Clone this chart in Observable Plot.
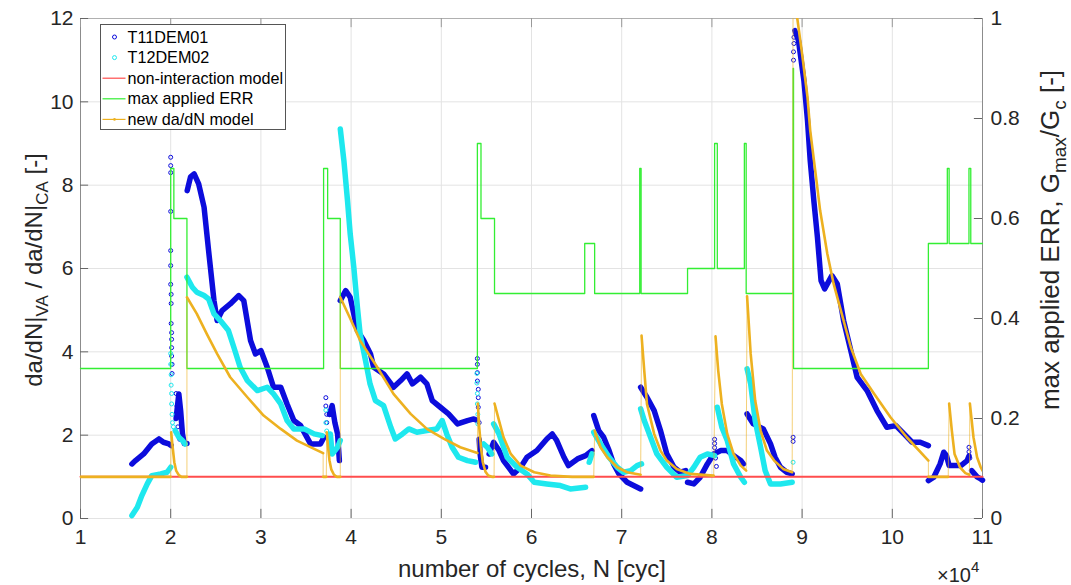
<!DOCTYPE html>
<html>
<head>
<meta charset="utf-8">
<script src="https://cdn.jsdelivr.net/npm/d3@7"></script>
<script src="https://cdn.jsdelivr.net/npm/@observablehq/plot@0.6"></script>
<style>
  html, body { margin: 0; padding: 0; background: #fff; }
  svg { display: block; }
</style>
</head>
<body>
<div id="chart"></div>
<script>
// ---------------- data (x in units of 10^4 cycles) ----------------
const xTicks = [1, 2, 3, 4, 5, 6, 7, 8, 9, 10, 11];
const yTicks = [0, 2, 4, 6, 8, 10, 12];
const rightTicks = [0, 0.2, 0.4, 0.6, 0.8, 1];
const rightTickLabels = ["0", "0.2", "0.4", "0.6", "0.8", "1"];
const rightMax = 1;   // right axis top
const leftMax = 12;   // left axis top

// T11DEM01 (blue) — continuous runs of measured points
const t11Segments = [
  [[1.57,1.31],[1.61,1.39],[1.70,1.55],[1.79,1.79],[1.87,1.91],[1.92,1.83],[1.98,1.79],[2.005,1.75]],
  [[2.06,2.4],[2.09,2.99],[2.11,2.59],[2.13,2.04],[2.15,1.8],[2.18,1.8]],
  [[2.183,7.87],[2.22,8.2],[2.26,8.27],[2.31,8.03],[2.37,7.47],[2.42,6.43],[2.48,5.23],[2.515,4.75],[2.57,4.99],[2.66,5.15],[2.755,5.35],[2.81,5.23],[2.885,4.27],[2.94,3.95],[3.0,4.03],[3.07,3.63],[3.14,3.15],[3.22,3.15],[3.29,2.75],[3.365,2.35],[3.44,2.23],[3.55,1.79],[3.66,1.79],[3.70,1.95]],
  [[3.76,2.5],[3.79,2.71],[3.82,2.3],[3.85,2.03],[3.87,1.39]],
  [[3.88,5.23],[3.94,5.47],[3.99,5.31],[4.07,4.51],[4.14,4.27],[4.215,3.95],[4.25,3.63],[4.36,3.47],[4.47,3.15],[4.55,3.31],[4.62,3.47],[4.68,3.23],[4.77,3.39],[4.84,3.23],[4.90,2.83],[4.99,2.67],[5.08,2.51],[5.18,2.27],[5.29,2.35],[5.36,2.39],[5.40,2.35]],
  [[5.42,1.9],[5.43,1.55],[5.45,1.23],[5.49,1.23]],
  [[5.53,1.55],[5.58,1.83],[5.64,1.63],[5.69,1.39],[5.80,1.07],[5.88,1.23],[5.95,1.47],[6.06,1.63],[6.17,1.91],[6.23,2.03],[6.28,1.87],[6.36,1.47],[6.41,1.27],[6.51,1.43],[6.60,1.51],[6.67,1.63]],
  [[6.69,2.47],[6.745,2.11],[6.80,1.95],[6.86,1.63],[6.91,1.31],[6.97,1.07],[7.06,0.87],[7.21,0.71]],
  [[7.21,3.15],[7.28,2.91],[7.36,2.59],[7.43,2.11],[7.50,1.55],[7.58,1.23],[7.65,1.11],[7.71,1.15]],
  [[7.73,0.87],[7.80,0.83],[7.87,0.99],[7.95,1.31],[8.02,1.55],[8.10,1.63],[8.17,1.63],[8.24,1.51],[8.32,1.39],[8.35,1.31]],
  [[8.39,2.51],[8.46,2.27],[8.57,2.15],[8.65,1.79],[8.70,1.47],[8.76,1.23],[8.83,1.11],[8.89,1.07]],
  [[8.92,11.71],[8.96,11.47],[9.02,10.51],[9.06,9.55],[9.09,8.59],[9.13,7.63],[9.17,6.75],[9.21,5.71],[9.25,5.51],[9.28,5.63],[9.33,5.83],[9.39,5.63],[9.46,4.75],[9.54,4.03],[9.61,3.39],[9.72,3.07],[9.83,2.59],[9.94,2.19],[10.04,2.23],[10.13,2.03],[10.22,1.83],[10.31,1.83],[10.40,1.75]],
  [[10.40,0.91],[10.46,0.99],[10.53,1.31],[10.57,1.59],[10.60,1.51],[10.63,1.27],[10.76,1.27],[10.83,1.39],[10.85,1.5]],
  [[10.88,1.15],[10.94,1.0],[10.98,0.95],[11.0,0.92]]
];
// T11DEM01 sparse points (fast transitions)
const t11Sparse = [
  [2.0,8.67],[2.0,8.47],[2.0,8.3],[2.0,7.37],[2.0,6.43],[2.0,6.07],[2.0,5.62],[2.005,5.38],[2.005,5.16],[2.005,4.68],[2.01,4.46],[2.01,4.3],[2.01,4.1],[2.01,3.9],[2.015,3.7],[2.015,3.48],
  [2.06,3.0],[2.07,2.7],[2.08,2.2],[2.1,1.9],
  [3.72,2.9],[3.72,2.7],[3.73,2.5],[3.73,2.3],
  [5.40,3.84],[5.40,3.7],[5.40,3.5],[5.40,3.3],[5.41,3.1],[5.41,2.9],[5.41,2.67],[5.42,2.3],
  [8.03,1.9],[8.03,1.8],[8.03,1.7],[8.04,1.45],[8.05,1.25],
  [8.90,1.95],[8.90,1.85],[8.905,11.0],[8.905,11.2],[8.91,11.4],[8.91,11.55],
  [10.85,1.71],[10.85,1.6],[10.86,1.45]
];

// T12DEM02 (cyan)
const t12Segments = [
  [[1.57,0.07],[1.63,0.27],[1.68,0.55],[1.74,0.83],[1.79,1.03],[1.89,1.07],[1.96,1.11],[2.0,1.23]],
  [[2.05,2.11],[2.09,1.95],[2.13,1.87],[2.16,1.79]],
  [[2.18,5.79],[2.24,5.55],[2.29,5.43],[2.37,5.35],[2.42,5.27],[2.48,4.91],[2.55,4.75],[2.64,4.51],[2.70,4.11],[2.77,3.63],[2.85,3.31],[2.96,3.07],[3.07,3.15],[3.14,2.99],[3.22,2.75],[3.29,2.35],[3.365,2.15],[3.48,2.15],[3.59,2.03],[3.68,1.99]],
  [[3.77,2.03],[3.79,1.55],[3.85,1.71],[3.88,1.87]],
  [[3.88,9.35],[3.92,8.59],[3.96,7.63],[3.99,6.83],[4.03,6.03],[4.07,5.07],[4.10,4.43],[4.16,3.79],[4.21,3.23],[4.27,2.83],[4.36,2.71],[4.44,2.19],[4.49,1.91],[4.57,2.03],[4.64,2.15],[4.73,2.07],[4.84,2.11],[4.95,2.15],[5.01,2.35],[5.06,2.03],[5.12,1.71],[5.19,1.47],[5.29,1.39],[5.38,1.35]],
  [[5.47,1.79],[5.51,1.71],[5.56,1.55]],
  [[5.58,2.27],[5.64,2.03],[5.73,1.47],[5.84,1.23],[5.95,1.07],[6.03,0.87],[6.17,0.83],[6.32,0.79],[6.43,0.71],[6.60,0.75]],
  [[6.64,1.35],[6.67,1.55]],
  [[6.69,2.07],[6.765,1.79],[6.86,1.47],[6.95,1.23],[7.02,1.11],[7.10,1.15],[7.17,1.27],[7.22,1.31]],
  [[7.21,2.63],[7.25,2.35],[7.32,1.95],[7.39,1.55],[7.50,1.23],[7.61,0.99],[7.73,1.03],[7.80,1.23],[7.87,1.47],[7.95,1.55],[8.03,1.51]],
  [[8.06,2.67],[8.11,2.19],[8.17,1.87],[8.24,1.31],[8.32,0.99],[8.36,0.87]],
  [[8.39,3.59],[8.43,3.23],[8.48,2.35],[8.54,1.71],[8.59,1.15],[8.65,0.83],[8.76,0.83],[8.89,0.87]]
];
const t12Sparse = [
  [2.0,3.96],[2.0,3.7],[2.005,3.45],[2.005,3.2],[2.01,3.0],[2.01,2.75],[2.015,2.5],[2.02,2.3],[2.03,2.2],
  [3.72,2.6],[3.72,2.3],[3.73,2.1],
  [5.395,3.48],[5.395,3.25],[5.40,3.0],[5.40,2.75],[5.405,2.5],[5.405,2.27],
  [8.90,1.35]
];

// non-interaction model
const nonInteraction = [[1, 1], [11, 1]];

// max applied ERR (right axis, G_max/G_c), step changes
const errX = [1.0, 2.0, 2.035, 2.18, 3.695, 3.74, 3.88, 5.40, 5.44, 5.59, 6.59, 6.70, 7.20, 7.215, 7.73, 8.03, 8.06, 8.36, 8.38, 8.90, 8.905, 10.40, 10.61, 10.63, 10.85, 10.87, 11.0];
const errY = [0.3, 0.7, 0.6, 0.3, 0.7, 0.6, 0.3, 0.75, 0.6, 0.45, 0.55, 0.45, 0.7, 0.45, 0.5, 0.75, 0.5, 0.75, 0.45, 0.9, 0.3, 0.55, 0.7, 0.55, 0.7, 0.55, 0.55];

// new da/dN model — decay runs
const modelSegments = [
  [[1.0,1.0],[2.0,1.0]],
  [[2.005,2.07],[2.02,1.75],[2.04,1.35],[2.06,1.15],[2.09,1.04],[2.12,1.0],[2.18,1.0]],
  [[2.18,5.31],[2.29,4.91],[2.40,4.43],[2.515,3.95],[2.66,3.39],[2.85,2.91],[3.03,2.47],[3.22,2.15],[3.40,1.87],[3.59,1.67],[3.69,1.57]],
  [[3.69,1.0],[3.725,1.0]],
  [[3.73,2.07],[3.745,1.7],[3.76,1.4],[3.78,1.18],[3.81,1.05],[3.84,1.0],[3.88,1.0]],
  [[3.88,5.31],[3.99,4.8],[4.10,4.27],[4.29,3.63],[4.47,2.99],[4.66,2.51],[4.84,2.15],[5.03,1.91],[5.21,1.71],[5.40,1.57]],
  [[5.405,2.76],[5.42,2.2],[5.44,1.7],[5.46,1.35],[5.49,1.12],[5.52,1.03],[5.56,1.0],[5.585,1.0]],
  [[5.59,2.76],[5.64,2.35],[5.69,1.95],[5.77,1.55],[5.88,1.27],[6.03,1.11],[6.21,1.03],[6.45,1.0],[6.69,1.0]],
  [[6.70,2.11],[6.765,1.71],[6.84,1.47],[6.95,1.23],[7.06,1.11],[7.21,1.05]],
  [[7.22,4.39],[7.25,3.55],[7.28,2.75],[7.36,2.03],[7.43,1.63],[7.50,1.39],[7.61,1.19],[7.76,1.07],[8.02,1.03]],
  [[8.04,4.37],[8.07,3.55],[8.11,2.75],[8.17,2.03],[8.24,1.55],[8.32,1.27],[8.38,1.15]],
  [[8.39,5.33],[8.43,3.95],[8.48,2.83],[8.54,2.11],[8.61,1.63],[8.69,1.39],[8.79,1.19],[8.89,1.11]],
  [[8.90,12.6],[8.95,11.95],[9.0,11.15],[9.06,10.11],[9.09,9.31],[9.15,8.27],[9.20,7.39],[9.28,6.35],[9.35,5.63],[9.43,4.99],[9.54,4.11],[9.65,3.47],[9.80,2.99],[9.98,2.43],[10.16,1.95],[10.40,1.39]],
  [[10.40,1.0],[10.62,1.0]],
  [[10.63,2.76],[10.66,2.11],[10.69,1.55],[10.75,1.23],[10.81,1.09],[10.855,1.05]],
  [[10.86,2.76],[10.90,1.95],[10.94,1.47],[10.98,1.23],[11.0,1.15]]
];

// ---------------- colours ----------------
const C_T11 = "#0c0cdc";
const C_T12 = "#1ee8ee";
const C_RED = "#ff4d4d";
const C_GREEN = "#33ee33";
const C_ORANGE = "#edb120";
const C_AXIS = "#8c8c8c";
const C_TEXT = "#262626";

// ---------------- tables for the library ----------------
const flat = (segs) => segs.flatMap((s, i) => s.map(([x, y]) => ({x, y, seg: i})));
const t11 = flat(t11Segments);
const t12 = flat(t12Segments);
const model = flat(modelSegments);
const t11Pts = t11Sparse.map(([x, y]) => ({x, y}));
const t12Pts = t12Sparse.map(([x, y]) => ({x, y}));
const red = nonInteraction.map(([x, y]) => ({x, y}));
const err = errX.map((x, i) => ({x, y: errY[i] * leftMax / rightMax}));

const chart = Plot.plot({
  width: 1071,
  height: 585,
  marginLeft: 80,
  marginRight: 89,
  marginTop: 18,
  marginBottom: 67,
  style: {fontFamily: "'Liberation Sans', Arial, Helvetica, sans-serif", fontSize: "21px", color: C_TEXT, background: "#fff"},
  x: {domain: [1, 11], label: null},
  y: {domain: [0, 12], label: null},
  marks: [
    Plot.gridX(xTicks, {stroke: "#e3e3e3", strokeOpacity: 1}),
    Plot.gridY(yTicks, {stroke: "#e3e3e3", strokeOpacity: 1}),
    // axis box lines
    Plot.ruleX([1, 11], {stroke: C_AXIS, strokeWidth: 1}),
    Plot.ruleY([12], {stroke: "#b0b0b0", strokeWidth: 1}),
    // inward ticks
    Plot.ruleX(xTicks, {x: d => d, y1: 0, y2: 0.22, stroke: "#666"}),
    Plot.ruleX(xTicks, {x: d => d, y1: 11.78, y2: 12, stroke: "#999"}),
    Plot.ruleY(yTicks, {y: d => d, x1: 1, x2: 1.09, stroke: "#666"}),
    Plot.ruleY(rightTicks, {y: d => d * leftMax / rightMax, x1: 10.91, x2: 11, stroke: "#666"}),
    // axes labels
    Plot.axisX({ticks: xTicks, tickSize: 0, tickPadding: 11, tickFormat: d => String(d), label: null}),
    Plot.axisY({anchor: "left", ticks: yTicks, tickSize: 0, tickPadding: 7, tickFormat: d => String(d), label: null}),
    Plot.axisY({anchor: "right", ticks: rightTicks.map(d => d * leftMax / rightMax), tickSize: 0, tickPadding: 8,
      tickFormat: d => rightTickLabels[rightTicks.findIndex(t => Math.abs(t * leftMax / rightMax - d) < 1e-6)], label: null}),
    // data
    Plot.line(t11, {x: "x", y: "y", z: "seg", stroke: C_T11, strokeWidth: 5.5, strokeLinecap: "round", strokeLinejoin: "round"}),
    Plot.dot(t11Pts, {x: "x", y: "y", r: 2, stroke: C_T11, strokeWidth: 1, fill: "none"}),
    Plot.line(t12, {x: "x", y: "y", z: "seg", stroke: C_T12, strokeWidth: 5.5, strokeLinecap: "round", strokeLinejoin: "round"}),
    Plot.dot(t12Pts, {x: "x", y: "y", r: 2, stroke: C_T12, strokeWidth: 1, fill: "none"}),
    Plot.line(red, {x: "x", y: "y", stroke: C_RED, strokeWidth: 2}),
    Plot.line(err, {x: "x", y: "y", stroke: C_GREEN, strokeWidth: 1.3, curve: "step-after"}),
    Plot.line(model, {x: "x", y: "y", stroke: C_ORANGE, strokeWidth: 1, strokeOpacity: 0.6, clip: true}),
    Plot.line(model, {x: "x", y: "y", z: "seg", stroke: C_ORANGE, strokeWidth: 2.6, clip: true})
  ]
});
document.getElementById("chart").appendChild(chart);

// ---------------- labels and legend ----------------
const svg = d3.select(chart);
const FONT = "'Liberation Sans', Arial, Helvetica, sans-serif";

// x label
svg.append("text").attr("x", 532).attr("y", 577).attr("text-anchor", "middle")
  .attr("font-family", FONT).attr("font-size", 24).attr("fill", C_TEXT)
  .text("number of cycles, N [cyc]");
// exponent
const ex = svg.append("text").attr("x", 937).attr("y", 582).attr("text-anchor", "start")
  .attr("font-family", FONT).attr("font-size", 20).attr("fill", C_TEXT);
ex.append("tspan").text("×10");
ex.append("tspan").attr("font-size", 15).attr("dy", -10).text("4");

// left y label
const yl = svg.append("text").attr("transform", "translate(42,270) rotate(-90)")
  .attr("text-anchor", "middle").attr("font-family", FONT).attr("font-size", 24).attr("fill", C_TEXT);
yl.append("tspan").text("da/dN|");
yl.append("tspan").attr("font-size", 17).attr("dy", 6).text("VA");
yl.append("tspan").attr("dy", -6).text(" / da/dN|");
yl.append("tspan").attr("font-size", 17).attr("dy", 6).text("CA");
yl.append("tspan").attr("dy", -6).text(" [-]");

// right y label
const yr = svg.append("text").attr("transform", "translate(1059,240) rotate(-90)")
  .attr("text-anchor", "middle").attr("font-family", FONT).attr("font-size", 26).attr("fill", C_TEXT);
yr.append("tspan").text("max applied ERR, G");
yr.append("tspan").attr("font-size", 19).attr("dy", 7).text("max");
yr.append("tspan").attr("dy", -7).text("/G");
yr.append("tspan").attr("font-size", 19).attr("dy", 7).text("c");
yr.append("tspan").attr("dy", -7).text(" [-]");

// legend
const legendItems = [
  {name: "T11DEM01", color: C_T11, type: "marker"},
  {name: "T12DEM02", color: C_T12, type: "marker"},
  {name: "non-interaction model", color: C_RED, type: "line"},
  {name: "max applied ERR", color: C_GREEN, type: "line"},
  {name: "new da/dN model", color: C_ORANGE, type: "linemarker"}
];
const lg = svg.append("g").attr("transform", "translate(100.5,24.5)");
lg.append("rect").attr("width", 185).attr("height", 105).attr("fill", "#fff").attr("stroke", "#555").attr("stroke-width", 1);
legendItems.forEach((it, i) => {
  const cy = 12.5 + i * 20.6;
  if (it.type === "marker") {
    lg.append("circle").attr("cx", 14).attr("cy", cy).attr("r", 2).attr("fill", "none").attr("stroke", it.color).attr("stroke-width", 1);
  } else {
    lg.append("line").attr("x1", 2).attr("x2", 25).attr("y1", cy).attr("y2", cy).attr("stroke", it.color).attr("stroke-width", 1.2);
    if (it.type === "linemarker") lg.append("circle").attr("cx", 14).attr("cy", cy).attr("r", 1.3).attr("fill", it.color);
  }
  lg.append("text").attr("x", 27).attr("y", cy + 5.5).attr("text-anchor", "start")
    .attr("font-family", FONT).attr("font-size", 16.2).attr("fill", "#000").text(it.name);
});
</script>
</body>
</html>
